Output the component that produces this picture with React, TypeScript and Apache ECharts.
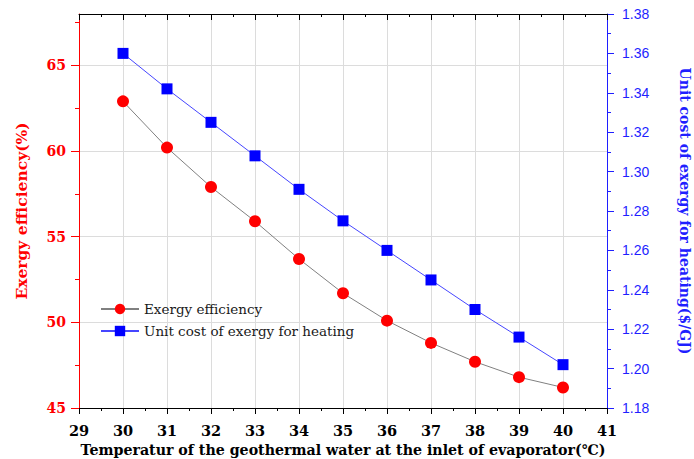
import React, { useEffect, useRef } from "react";
import * as echarts from "echarts";

// Inlet temperature of the geothermal water (°C)
const temperatures = [30, 31, 32, 33, 34, 35, 36, 37, 38, 39, 40];
// Exergy efficiency (%)
const exergyEfficiency = [62.9, 60.2, 57.9, 55.9, 53.7, 51.7, 50.1, 48.8, 47.7, 46.8, 46.2];
// Unit cost of exergy for heating ($/GJ)
const unitCost = [1.36, 1.342, 1.325, 1.308, 1.291, 1.275, 1.26, 1.245, 1.23, 1.216, 1.202];

// Left axis tick positions
const efficiencyMajorTicks = [45, 50, 55, 60, 65];
const efficiencyMinorTicks = [47.5, 52.5, 57.5, 62.5, 67.5];

const SERIF = "DejaVu Serif";
const SANS = "Liberation Sans";
const RED = "#ff0000";
const BLUE = "#1f1fff";
const GRID = "#dcdcdc";

function buildOption() {
  const effData = temperatures.map((t, i) => [t, exergyEfficiency[i]]);
  const costData = temperatures.map((t, i) => [t, unitCost[i]]);

  return {
    animation: false,
    backgroundColor: "#ffffff",
    grid: { left: 79, right: 87, top: 14, bottom: 51, outerBoundsMode: "none" },
    legend: {
      orient: "vertical",
      left: 100,
      top: 302,
      padding: 0,
      itemWidth: 38,
      itemHeight: 13,
      itemGap: 8,
      selectedMode: false,
      textStyle: { fontFamily: SERIF, fontSize: 13.5, color: "#1a1a1a" },
      data: ["Exergy efficiency", "Unit cost of exergy for heating"],
    },
    xAxis: [
      {
        type: "value",
        position: "bottom",
        min: 29,
        max: 41,
        interval: 1,
        name: "Temperatur of the geothermal water at the inlet of evaporator(℃)",
        nameLocation: "middle",
        nameGap: 29,
        nameTextStyle: { fontFamily: SERIF, fontWeight: "bold", fontSize: 14.2, color: "#000" },
        axisLine: { show: true, onZero: false, lineStyle: { color: "#000", width: 1 } },
        axisTick: { show: true, inside: false, length: 6, lineStyle: { color: "#000" } },
        minorTick: { show: true, splitNumber: 2, length: 3, lineStyle: { color: "#000" } },
        axisLabel: { margin: 15, fontFamily: SERIF, fontWeight: "bold", fontSize: 14.5, color: "#000" },
        splitLine: { show: true, lineStyle: { color: GRID, width: 1 } },
      },
      {
        type: "value",
        position: "top",
        min: 29,
        max: 41,
        interval: 1,
        axisLine: { show: true, onZero: false, lineStyle: { color: "#000", width: 1 } },
        axisTick: { show: true, inside: true, length: 6, lineStyle: { color: "#000" } },
        minorTick: { show: true, splitNumber: 2, length: 3, lineStyle: { color: "#000" } },
        axisLabel: { show: false },
        splitLine: { show: false },
      },
    ],
    yAxis: [
      {
        type: "value",
        position: "left",
        min: 45,
        max: 68,
        interval: 5,
        name: "Exergy efficiency(%)",
        nameLocation: "middle",
        nameGap: 50,
        nameTextStyle: { fontFamily: SERIF, fontWeight: "bold", fontSize: 15.5, color: RED },
        axisLine: { show: true, onZero: false, lineStyle: { color: RED, width: 1 } },
        axisTick: {
          show: true,
          inside: false,
          length: 8,
          customValues: efficiencyMajorTicks,
          lineStyle: { color: RED },
        },
        axisLabel: {
          margin: 13,
          fontFamily: SERIF,
          fontWeight: "bold",
          fontSize: 14,
          color: RED,
          formatter: (v: number) => (efficiencyMajorTicks.includes(v) ? String(v) : ""),
        },
        splitLine: { show: true, lineStyle: { color: GRID, width: 1 } },
      },
      {
        type: "value",
        position: "right",
        min: 1.18,
        max: 1.38,
        interval: 0.02,
        name: "Unit cost of exergy for heating($/GJ)",
        nameLocation: "middle",
        nameRotate: -90,
        nameGap: 71,
        nameTextStyle: { fontFamily: SERIF, fontWeight: "bold", fontSize: 14, color: BLUE },
        axisLine: { show: true, onZero: false, lineStyle: { color: BLUE, width: 1 } },
        axisTick: { show: true, inside: false, length: 7, lineStyle: { color: BLUE } },
        minorTick: { show: true, splitNumber: 2, length: 4, lineStyle: { color: BLUE } },
        axisLabel: {
          margin: 15,
          fontFamily: SANS,
          fontSize: 14,
          color: BLUE,
          formatter: (v: number) => v.toFixed(2),
        },
        splitLine: { show: false },
      },
      {
        // minor ticks of the efficiency axis
        type: "value",
        position: "left",
        min: 45,
        max: 68,
        interval: 2.5,
        axisLine: { show: false },
        axisTick: {
          show: true,
          inside: false,
          length: 4,
          customValues: efficiencyMinorTicks,
          lineStyle: { color: RED },
        },
        axisLabel: { show: false },
        splitLine: { show: false },
      },
    ],
    series: [
      {
        name: "Exergy efficiency",
        type: "line",
        xAxisIndex: 0,
        yAxisIndex: 0,
        data: effData,
        symbol: "circle",
        symbolSize: 12,
        itemStyle: { color: RED },
        lineStyle: { color: "#808080", width: 1 },
        emphasis: { disabled: true },
        z: 3,
      },
      {
        name: "Unit cost of exergy for heating",
        type: "line",
        xAxisIndex: 0,
        yAxisIndex: 1,
        data: costData,
        symbol: "rect",
        symbolSize: 11,
        itemStyle: { color: "#0000ff" },
        lineStyle: { color: "#4646ff", width: 1 },
        emphasis: { disabled: true },
        z: 3,
      },
    ],
  };
}

export default function App() {
  const ref = useRef<HTMLDivElement>(null);

  useEffect(() => {
    if (!ref.current) return;
    const chart = echarts.init(ref.current, null, { renderer: "svg" });
    chart.setOption(buildOption() as any);
    return () => chart.dispose();
  }, []);

  return (
    <div
      ref={ref}
      style={{ position: "absolute", left: 0, top: 0, width: 694, height: 459, background: "#fff" }}
    />
  );
}
